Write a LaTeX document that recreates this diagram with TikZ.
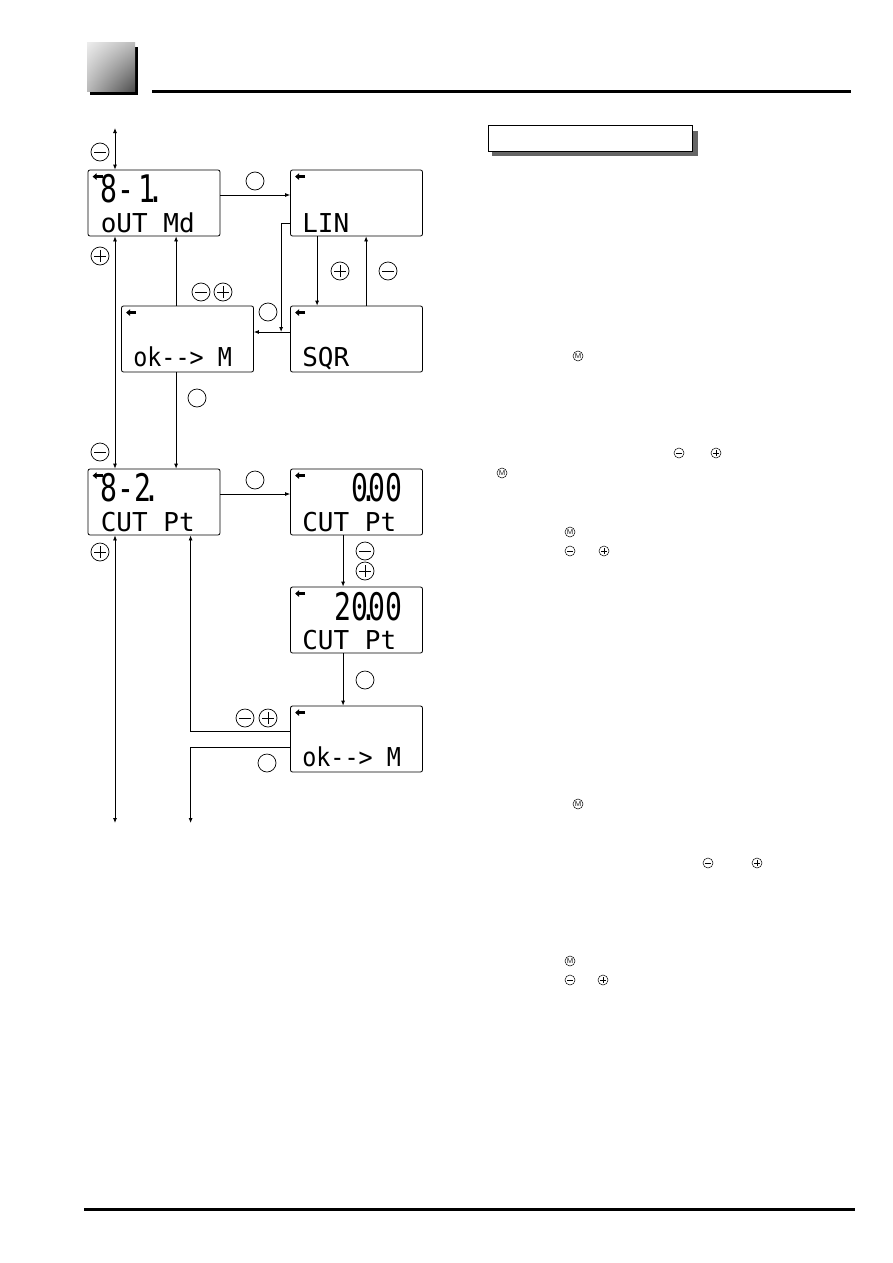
\documentclass[tikz,border=0pt]{standalone}
\usepackage{fontspec}
\usepackage{tikz}
\usetikzlibrary{arrows.meta, positioning, shadings}
\newfontfamily\lcd{DejaVu Sans Mono}
\newcommand{\lcdpt}{\kern-0.3em.\kern-0.3em}

\tikzset{
  lcdbox/.style={draw, thick, rounded corners=2pt, minimum width=132pt, minimum height=66pt, inner sep=0pt},
  big/.style={font=\lcd\fontsize{38}{38}\selectfont, inner sep=0pt, xscale=0.74, transform shape},
  small/.style={font=\lcd\fontsize{26}{26}\selectfont, inner sep=0pt},
  okline/.style={font=\lcd\fontsize{26}{26}\selectfont, inner sep=0pt, xscale=0.9, transform shape},
  ind/.style={line width=2.6pt, -{Triangle[length=4pt,width=6.5pt]}},
  arr/.style={line width=0.8pt, -{Latex[length=5pt,width=4pt]}},
  dbl/.style={line width=0.8pt, {Latex[length=5pt,width=4pt]}-{Latex[length=5pt,width=4pt]}},
  btn/.style={draw, circle, line width=0.7pt, minimum size=18pt, inner sep=0pt},
  keyminus/.style={btn, path picture={
    \draw[line width=0.7pt] ([xshift=3pt]path picture bounding box.west) -- ([xshift=-3pt]path picture bounding box.east);}},
  keyplus/.style={btn, path picture={
    \draw[line width=0.7pt] ([xshift=3pt]path picture bounding box.west) -- ([xshift=-3pt]path picture bounding box.east);
    \draw[line width=0.7pt] ([yshift=3pt]path picture bounding box.south) -- ([yshift=-3pt]path picture bounding box.north);}},
  sbtn/.style={draw, circle, line width=0.5pt, minimum size=10pt, inner sep=0pt},
  sminus/.style={sbtn, path picture={
    \draw[line width=0.5pt] ([xshift=2pt]path picture bounding box.west) -- ([xshift=-2pt]path picture bounding box.east);}},
  splus/.style={sbtn, path picture={
    \draw[line width=0.5pt] ([xshift=2pt]path picture bounding box.west) -- ([xshift=-2pt]path picture bounding box.east);
    \draw[line width=0.5pt] ([yshift=2pt]path picture bounding box.south) -- ([yshift=-2pt]path picture bounding box.north);}},
  skeym/.style={sbtn, font=\sffamily\fontsize{7}{7}\selectfont}
}

\begin{document}
\begin{tikzpicture}[x=1pt, y=-1pt]
\useasboundingbox (0,0) rectangle (893,1263);

% page header and footer
\fill[black] (90,47) rectangle (138,95);
\shade[upper left=gray!15, upper right=gray!55, lower left=gray!55, lower right=black!70] (87,43) rectangle (135,91);
\draw[line width=3pt] (152,91) -- (851,91);
\draw[line width=3pt] (84,1209) -- (855,1209);

% title box
\fill[black!60] (492,131) rectangle (698,156);
\node[draw, thick, fill=white, minimum width=204pt, minimum height=26pt, inner sep=0pt] (title) at (590,138) {};

% displays
\node[lcdbox] (b1) at (154,203) {};
\node[lcdbox] (lin) at (356.5,203) {};
\node[lcdbox] (ok1) at (187.5,339) {};
\node[lcdbox] (sqr) at (356.5,339) {};
\node[lcdbox] (b2) at (154,502) {};
\node[lcdbox] (cpt) at (356.5,502) {};
\node[lcdbox] (cpt20) at (356.5,620) {};
\node[lcdbox] (ok2) at (356.5,739) {};

\foreach \b in {b1,lin,ok1,sqr,b2,cpt,cpt20,ok2}
  \draw[ind] ([shift={(15,7)}]\b.north west) -- ++(-10,0);

\node[big, anchor=base west] at ([shift={(13,33)}]b1.north west) {8-\kern0.15em1\lcdpt};
\node[small, anchor=base west] at ([shift={(13,63)}]b1.north west) {oUT Md};
\node[small, anchor=base west] at ([shift={(12,63)}]lin.north west) {LIN};
\node[okline, anchor=base west] at ([shift={(12,61)}]ok1.north west) {ok-{}-> M};
\node[small, anchor=base west] at ([shift={(12,61)}]sqr.north west) {SQR};
\node[big, anchor=base west] at ([shift={(13,33)}]b2.north west) {8-2\lcdpt};
\node[small, anchor=base west] at ([shift={(13,63)}]b2.north west) {CUT Pt};
\node[big, anchor=base east] at ([shift={(-20,33)}]cpt.north east) {0\lcdpt00};
\node[small, anchor=base west] at ([shift={(12,63)}]cpt.north west) {CUT Pt};
\node[big, anchor=base east] at ([shift={(-20,34)}]cpt20.north east) {20\lcdpt00};
\node[small, anchor=base west] at ([shift={(12,63)}]cpt20.north west) {CUT Pt};
\node[okline, anchor=base west] at ([shift={(12,61)}]ok2.north west) {ok-{}-> M};

% connectors
\coordinate (top) at (115,128);
\coordinate (bot) at (115,823);
\coordinate (c1) at ([xshift=55pt]ok1.north west);
\coordinate (c2) at ([xshift=103pt]b2.south west);

\draw[dbl] (top) -- (top |- b1.north);
\draw[dbl] (top |- b1.south) -- (top |- b2.north);
\draw[dbl] (top |- b2.south) -- (bot);

\draw[arr] ([yshift=8pt]b1.east) -- ([yshift=8pt]lin.west);
\draw[arr] ([xshift=27pt]lin.south west) -- ([xshift=27pt]sqr.north west);
\draw[arr] ([xshift=76pt]sqr.north west) -- ([xshift=76pt]lin.south west);
\draw[arr] ([yshift=-20pt]lin.west) -| ([xshift=-9pt,yshift=7pt]sqr.west);
\draw[arr] ([yshift=7pt]sqr.west) -- ([yshift=7pt]ok1.east);
\draw[arr] (c1) -- (c1 |- b1.south);
\draw[arr] (c1 |- ok1.south) -- (c1 |- b2.north);

\draw[arr] ([yshift=8pt]b2.east) -- ([yshift=8pt]cpt.west);
\draw[arr] ([xshift=53pt]cpt.south west) -- ([xshift=53pt]cpt20.north west);
\draw[arr] ([xshift=53pt]cpt20.south west) -- ([xshift=53pt]ok2.north west);
\draw[arr] ([yshift=8pt]ok2.west) -| (c2);
\draw[arr] ([yshift=-8pt]ok2.west) -| (c2 |- bot);

% keys on the connectors
\node[keyminus] (k1) at (100,152) {};
\node[keyplus] (k2) at (100,256) {};
\node[keyminus] (k3) at (100,452) {};
\node[keyplus] (k4) at (100,552) {};
\node[btn] (k5) at (255,181) {};
\node[keyplus] (k6) at (340,271) {};
\node[keyminus] (k7) at (388,271) {};
\node[btn] (k8) at (268,312) {};
\node[keyminus] (k9) at (201,292) {};
\node[keyplus] (k10) at (223,292) {};
\node[btn] (k11) at (197,398) {};
\node[btn] (k12) at (255,480) {};
\node[keyminus] (k13) at (365,551) {};
\node[keyplus] (k14) at (365,571) {};
\node[btn] (k15) at (365,680) {};
\node[keyminus] (k16) at (245,718) {};
\node[keyplus] (k17) at (268,718) {};
\node[btn] (k18) at (267,763) {};

% keys in the text column
\node[skeym] (m1) at (578,356) {M};
\node[sminus] (s1) at (679,453) {};
\node[splus] (s2) at (716,453) {};
\node[skeym] (m2) at (502,473) {M};
\node[skeym] (m3) at (570,532) {M};
\node[sminus] (s3) at (570,551) {};
\node[splus] (s4) at (604,551) {};
\node[skeym] (m4) at (578,804) {M};
\node[sminus] (s5) at (708,863) {};
\node[splus] (s6) at (757,863) {};
\node[skeym] (m5) at (570,961) {M};
\node[sminus] (s7) at (570,980) {};
\node[splus] (s8) at (603,980) {};
\end{tikzpicture}
\end{document}
